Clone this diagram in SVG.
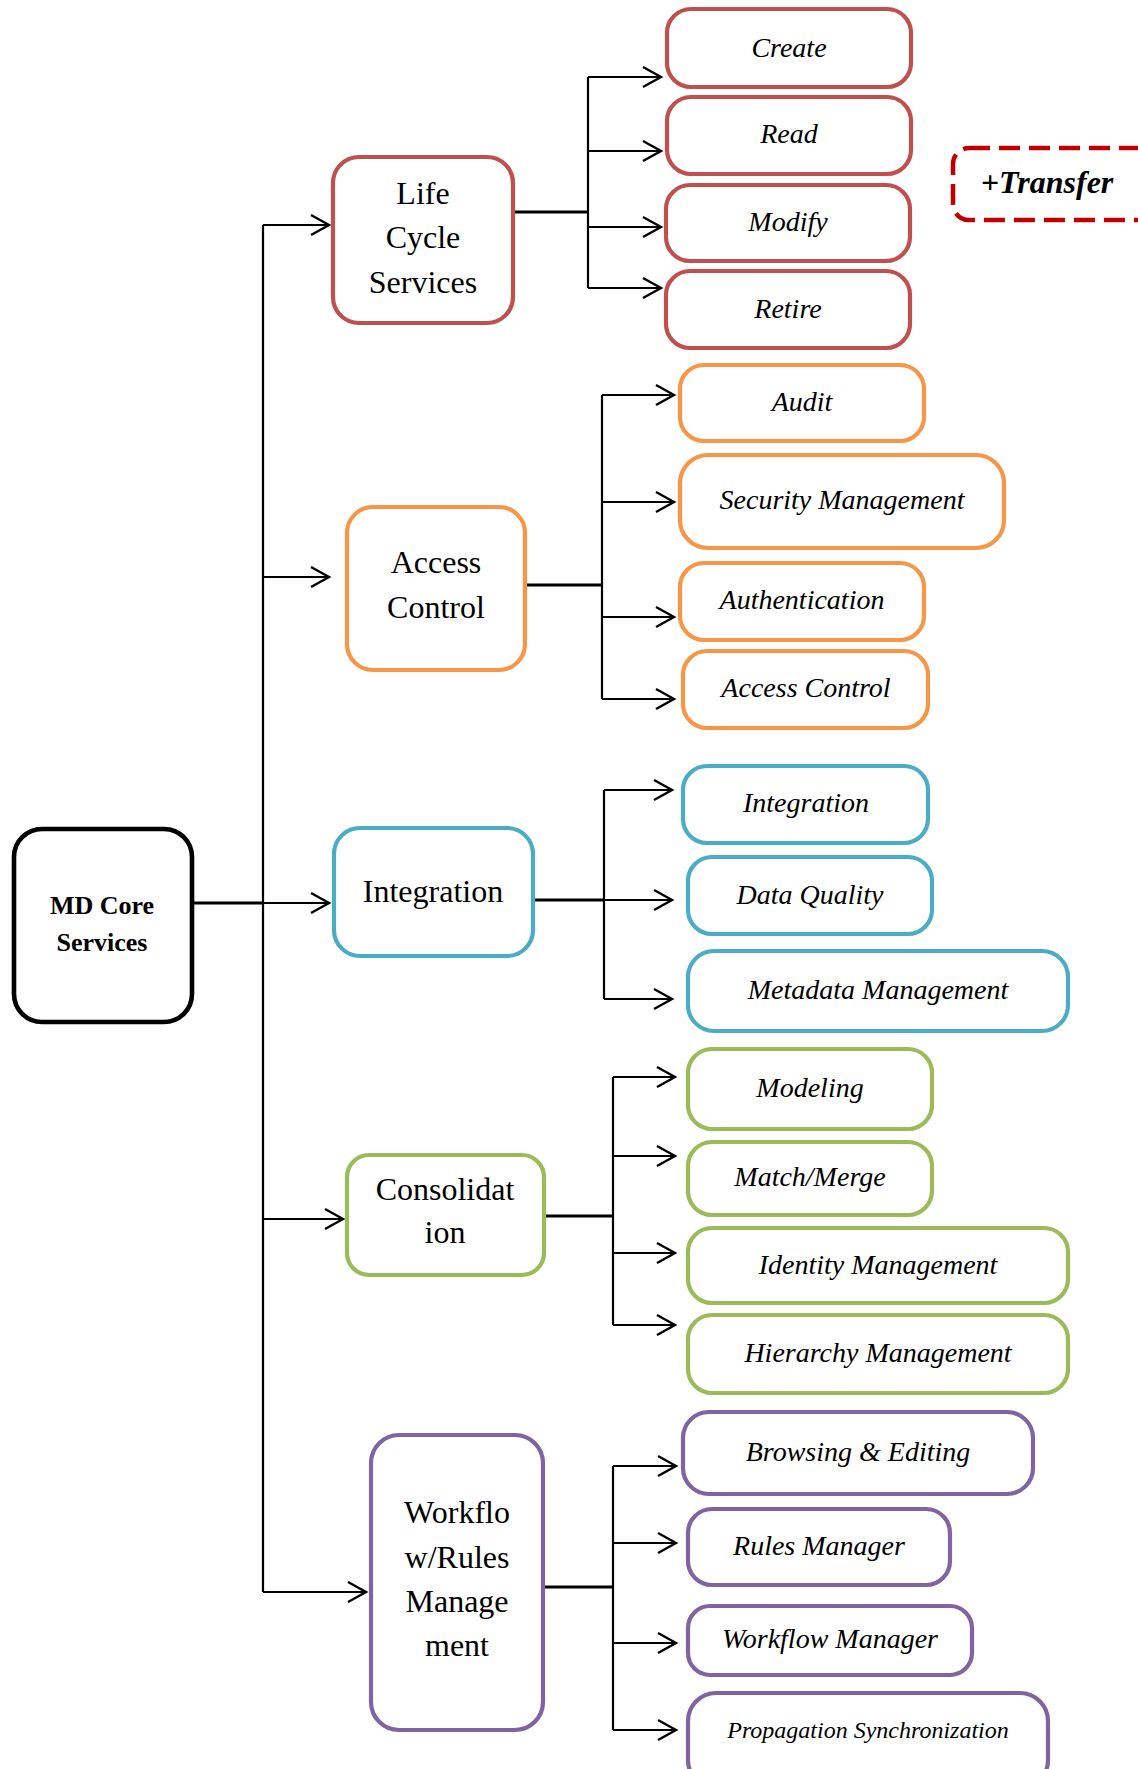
<svg xmlns="http://www.w3.org/2000/svg" width="1138" height="1769" viewBox="0 0 1138 1769">
<style>
  .box{fill:#fff;stroke-width:4.2}
  .red{stroke:#C0504D}
  .org{stroke:#F79646}
  .blu{stroke:#4BACC6}
  .grn{stroke:#9BBB59}
  .pur{stroke:#8064A2}
  .main{font-family:"Liberation Serif","Times New Roman",serif;font-size:32px;text-anchor:middle;fill:#000}
  .sub{font-family:"Liberation Serif","Times New Roman",serif;font-size:28px;font-style:italic;text-anchor:middle;fill:#000}
  .small{font-size:24px}
  .root{font-family:"Liberation Serif","Times New Roman",serif;font-size:26px;font-weight:bold;text-anchor:middle;fill:#000}
  .c{fill:none;stroke:#000;stroke-width:2.2}
  .t{fill:none;stroke:#000;stroke-width:3}
</style>
<defs>
  <marker id="arr" viewBox="-21 -12 24 24" markerWidth="24" markerHeight="24" refX="0" refY="0" orient="auto" markerUnits="userSpaceOnUse">
    <path d="M-18,-10 L0,0 L-18,10" fill="none" stroke="#000" stroke-width="2.4"/>
  </marker>
</defs>

<g id="connectors">
  <!-- trunk -->
  <path class="t" d="M192,903 H263"/>
  <path class="c" d="M263,225 V1592"/>
  <path class="c" d="M263,225 H329" marker-end="url(#arr)"/>
  <path class="c" d="M263,577 H329" marker-end="url(#arr)"/>
  <path class="c" d="M263,903 H329" marker-end="url(#arr)"/>
  <path class="c" d="M263,1219 H343" marker-end="url(#arr)"/>
  <path class="c" d="M263,1592 H366" marker-end="url(#arr)"/>
  <!-- life cycle -->
  <path class="t" d="M515,212 H588"/>
  <path class="c" d="M588,77 V288"/>
  <path class="c" d="M588,77 H661" marker-end="url(#arr)"/>
  <path class="c" d="M588,151 H661" marker-end="url(#arr)"/>
  <path class="c" d="M588,227 H661" marker-end="url(#arr)"/>
  <path class="c" d="M588,288 H661" marker-end="url(#arr)"/>
  <!-- access control -->
  <path class="t" d="M527,585 H602"/>
  <path class="c" d="M602,395 V699"/>
  <path class="c" d="M602,395 H674" marker-end="url(#arr)"/>
  <path class="c" d="M602,502 H674" marker-end="url(#arr)"/>
  <path class="c" d="M602,617 H674" marker-end="url(#arr)"/>
  <path class="c" d="M602,699 H674" marker-end="url(#arr)"/>
  <!-- integration -->
  <path class="t" d="M535,900 H604"/>
  <path class="c" d="M604,790 V999"/>
  <path class="c" d="M604,790 H672" marker-end="url(#arr)"/>
  <path class="c" d="M604,900 H672" marker-end="url(#arr)"/>
  <path class="c" d="M604,999 H672" marker-end="url(#arr)"/>
  <!-- consolidation -->
  <path class="t" d="M546,1216 H613"/>
  <path class="c" d="M613,1077 V1325"/>
  <path class="c" d="M613,1077 H675" marker-end="url(#arr)"/>
  <path class="c" d="M613,1156 H675" marker-end="url(#arr)"/>
  <path class="c" d="M613,1253 H675" marker-end="url(#arr)"/>
  <path class="c" d="M613,1325 H675" marker-end="url(#arr)"/>
  <!-- workflow -->
  <path class="t" d="M545,1587 H613"/>
  <path class="c" d="M613,1466 V1730"/>
  <path class="c" d="M613,1466 H676" marker-end="url(#arr)"/>
  <path class="c" d="M613,1543 H676" marker-end="url(#arr)"/>
  <path class="c" d="M613,1643 H676" marker-end="url(#arr)"/>
  <path class="c" d="M613,1730 H676" marker-end="url(#arr)"/>
</g>

<g id="md-core">
  <rect x="14" y="829" width="178" height="193" rx="28" fill="#fff" stroke="#000" stroke-width="4.6"/>
  <text class="root" x="102" y="914">MD Core</text>
  <text class="root" x="102" y="951">Services</text>
</g>

<g id="life-cycle">
  <rect class="box red" x="333" y="157" width="180" height="166" rx="26"/>
  <text class="main" x="423" y="204">Life</text>
  <text class="main" x="423" y="248">Cycle</text>
  <text class="main" x="423" y="293">Services</text>
</g>
<g id="create"><rect class="box red" x="667" y="9" width="244" height="78" rx="24"/><text class="sub" x="789" y="57">Create</text></g>
<g id="read"><rect class="box red" x="667" y="97" width="244" height="77" rx="24"/><text class="sub" x="789" y="143">Read</text></g>
<g id="modify"><rect class="box red" x="666" y="185" width="244" height="76" rx="24"/><text class="sub" x="788" y="231">Modify</text></g>
<g id="retire"><rect class="box red" x="666" y="271" width="244" height="77" rx="24"/><text class="sub" x="788" y="318">Retire</text></g>
<g id="transfer">
  <rect x="953" y="148" width="200" height="72" rx="16" fill="none" stroke="#C00000" stroke-width="4.5" stroke-dasharray="21 9"/>
  <text x="1047" y="193" font-family="'Liberation Serif','Times New Roman',serif" font-size="32" font-weight="bold" font-style="italic" text-anchor="middle" fill="#000">+Transfer</text>
</g>

<g id="access-control">
  <rect class="box org" x="347" y="507" width="178" height="163" rx="26"/>
  <text class="main" x="436" y="573">Access</text>
  <text class="main" x="436" y="618">Control</text>
</g>
<g id="audit"><rect class="box org" x="680" y="365" width="244" height="76" rx="24"/><text class="sub" x="802" y="411">Audit</text></g>
<g id="security"><rect class="box org" x="680" y="455" width="324" height="93" rx="28"/><text class="sub" x="842" y="509">Security Management</text></g>
<g id="authentication"><rect class="box org" x="680" y="563" width="244" height="77" rx="24"/><text class="sub" x="802" y="609">Authentication</text></g>
<g id="access-control-sub"><rect class="box org" x="683" y="651" width="245" height="77" rx="24"/><text class="sub" x="806" y="697">Access Control</text></g>

<g id="integration">
  <rect class="box blu" x="334" y="828" width="199" height="128" rx="26"/>
  <text class="main" x="433" y="902">Integration</text>
</g>
<g id="integration-sub"><rect class="box blu" x="683" y="766" width="245" height="77" rx="24"/><text class="sub" x="806" y="812">Integration</text></g>
<g id="data-quality"><rect class="box blu" x="688" y="857" width="244" height="77" rx="24"/><text class="sub" x="810" y="904">Data Quality</text></g>
<g id="metadata"><rect class="box blu" x="688" y="951" width="380" height="80" rx="26"/><text class="sub" x="878" y="999">Metadata Management</text></g>

<g id="consolidation">
  <rect class="box grn" x="347" y="1155" width="197" height="120" rx="22"/>
  <text class="main" x="445" y="1200">Consolidat</text>
  <text class="main" x="445" y="1243">ion</text>
</g>
<g id="modeling"><rect class="box grn" x="688" y="1049" width="244" height="80" rx="24"/><text class="sub" x="810" y="1097">Modeling</text></g>
<g id="match-merge"><rect class="box grn" x="688" y="1142" width="244" height="73" rx="24"/><text class="sub" x="810" y="1186">Match/Merge</text></g>
<g id="identity"><rect class="box grn" x="688" y="1228" width="380" height="75" rx="24"/><text class="sub" x="878" y="1274">Identity Management</text></g>
<g id="hierarchy"><rect class="box grn" x="688" y="1315" width="380" height="78" rx="24"/><text class="sub" x="878" y="1362">Hierarchy Management</text></g>

<g id="workflow">
  <rect class="box pur" x="371" y="1435" width="172" height="295" rx="28"/>
  <text class="main" x="457" y="1523">Workflo</text>
  <text class="main" x="457" y="1568">w/Rules</text>
  <text class="main" x="457" y="1612">Manage</text>
  <text class="main" x="457" y="1656">ment</text>
</g>
<g id="browsing"><rect class="box pur" x="683" y="1412" width="350" height="82" rx="26"/><text class="sub" x="858" y="1461">Browsing &amp; Editing</text></g>
<g id="rules"><rect class="box pur" x="688" y="1509" width="262" height="76" rx="24"/><text class="sub" x="819" y="1555">Rules Manager</text></g>
<g id="workflow-mgr"><rect class="box pur" x="688" y="1606" width="284" height="69" rx="22"/><text class="sub" x="830" y="1648">Workflow Manager</text></g>
<g id="propagation"><rect class="box pur" x="688" y="1693" width="360" height="95" rx="28"/><text class="sub small" x="868" y="1738">Propagation Synchronization</text></g>
</svg>
